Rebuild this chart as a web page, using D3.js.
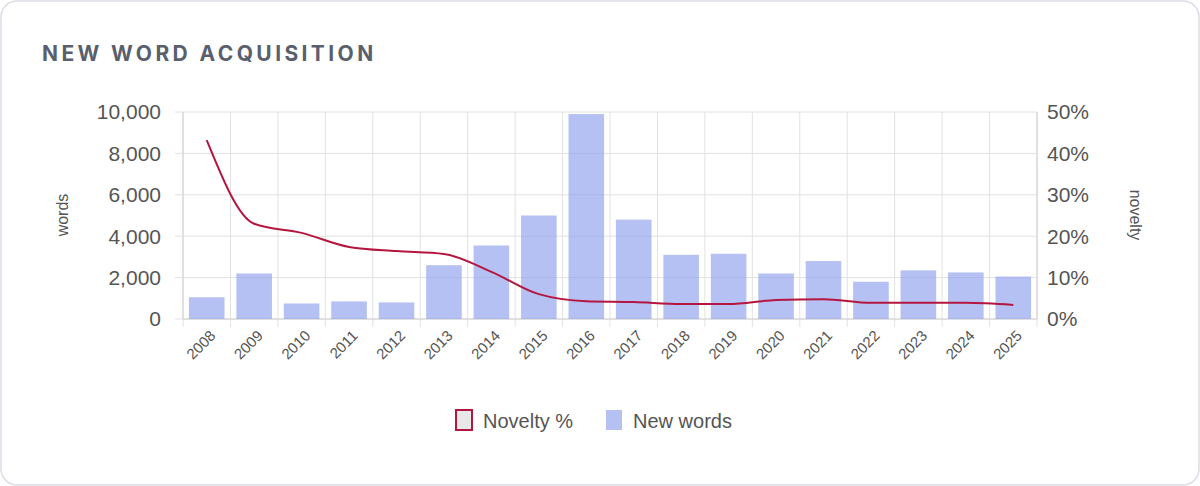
<!DOCTYPE html><html><head><meta charset="utf-8"><script src="https://cdn.jsdelivr.net/npm/d3@7"></script>
<style>body{margin:0;background:#fff;font-family:"Liberation Sans",Arial,sans-serif}</style></head><body>
<svg id="c" width="1200" height="486"></svg>
<script>
const years=["2008","2009","2010","2011","2012","2013","2014","2015","2016","2017","2018","2019","2020","2021","2022","2023","2024","2025"];
const newWords=[1050,2200,750,850,800,2600,3550,5000,9900,4800,3100,3150,2200,2800,1800,2350,2250,2050];
const novelty=[43.2,23,20.8,17.4,16.4,15.7,11.4,6,4.3,4.1,3.6,3.6,4.6,4.8,3.9,3.9,3.9,3.4];
const leftTicks=[0,2000,4000,6000,8000,10000];
const rightTicks=[0,10,20,30,40,50];
const svg=d3.select("#c");
svg.append("rect").attr("x",1).attr("y",1).attr("width",1198).attr("height",484).attr("rx",16).attr("fill","#fff").attr("stroke","#dcdce6").attr("stroke-width",1.5);
svg.append("text").attr("x",42).attr("y",61).text("NEW WORD ACQUISITION").attr("fill","#5a5f6e").attr("font-family","Inter,sans-serif").attr("font-size",21).attr("font-weight",700).attr("letter-spacing",3.4);
const L=183,R=1037,T=112,B=319;
const x=d3.scaleBand().domain(years).range([L,R]);
const y=d3.scaleLinear().domain([0,10000]).range([B,T]);
const y2=d3.scaleLinear().domain([0,50]).range([B,T]);
const g=svg.append("g");
leftTicks.forEach(t=>g.append("line").attr("x1",L-8).attr("x2",R).attr("y1",y(t)).attr("y2",y(t)).attr("stroke","#e2e2e2"));
years.forEach(d=>g.append("line").attr("x1",x(d)).attr("x2",x(d)).attr("y1",T).attr("y2",B+8).attr("stroke","#e2e2e2"));
g.append("line").attr("x1",R).attr("x2",R).attr("y1",T).attr("y2",B+8).attr("stroke","#e2e2e2");
g.append("line").attr("x1",L).attr("x2",L).attr("y1",T).attr("y2",B).attr("stroke","#d0d0d0");
g.append("line").attr("x1",R).attr("x2",R).attr("y1",T).attr("y2",B).attr("stroke","#d0d0d0");
g.append("line").attr("x1",L).attr("x2",R).attr("y1",B).attr("y2",B).attr("stroke","#d0d0d0");
const bw=x.bandwidth()*0.75;
g.selectAll(".b").data(newWords).join("rect").attr("x",(d,i)=>x(years[i])+(x.bandwidth()-bw)/2).attr("width",bw)
 .attr("y",d=>y(d)).attr("height",d=>B-y(d)).attr("fill","rgba(140,160,235,0.65)");
const line=d3.line().x((d,i)=>x(years[i])+x.bandwidth()/2).y(d=>y2(d)).curve(d3.curveMonotoneX);
g.append("path").attr("d",line(novelty)).attr("fill","none").attr("stroke","#b5163f").attr("stroke-width",2);
const fmt=d3.format(",");
leftTicks.forEach(t=>g.append("text").attr("x",L-22).attr("y",y(t)).attr("dy","0.35em").attr("text-anchor","end").attr("font-size",21).attr("fill","#555").text(fmt(t)));
rightTicks.forEach(t=>g.append("text").attr("x",R+10).attr("y",y2(t)).attr("dy","0.35em").attr("font-size",21).attr("fill","#555").text(t+"%"));
years.forEach(d=>g.append("text").attr("transform",`translate(${x(d)+x.bandwidth()/2+6},${B+14}) rotate(-45)`).attr("text-anchor","end").attr("dy","0.35em").attr("font-size",15).attr("fill","#555").text(d));
svg.append("text").attr("transform","translate(68,215) rotate(-90)").attr("text-anchor","middle").attr("font-size",16).attr("fill","#555").text("words");
svg.append("text").attr("transform","translate(1130,215) rotate(90)").attr("text-anchor","middle").attr("font-size",16).attr("fill","#555").text("novelty");
svg.append("rect").attr("x",456).attr("y",410).attr("width",16).attr("height",20).attr("fill","#e8e8e8").attr("stroke","#b5163f").attr("stroke-width",2);
svg.append("text").attr("x",483).attr("y",421).attr("dy","0.35em").attr("font-size",20).attr("fill","#555").text("Novelty %");
svg.append("rect").attr("x",606).attr("y",410).attr("width",16).attr("height",20).attr("fill","rgba(140,160,235,0.65)");
svg.append("text").attr("x",633).attr("y",421).attr("dy","0.35em").attr("font-size",20).attr("fill","#555").text("New words");
</script></body></html>
